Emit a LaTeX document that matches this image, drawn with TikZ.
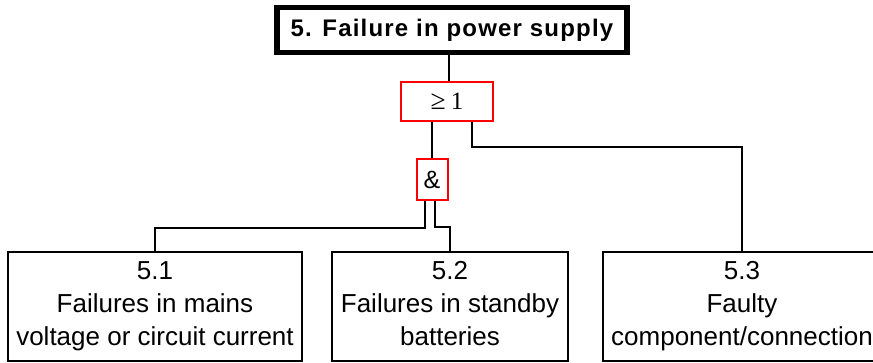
\documentclass[tikz,border=0pt]{standalone}
\usepackage{graphicx}
\usepackage{fontspec}
\setmainfont{Liberation Sans}
\newfontfamily\titlefont[LetterSpace=5]{Liberation Sans}
\newfontfamily\gateserif{Liberation Serif}
\begin{document}
\begin{tikzpicture}[x=1pt,y=-1pt]
\tikzset{
  leaf/.style={draw, line width=2pt, minimum height=109pt, align=center, inner sep=0pt,
    font=\fontsize{26}{33}\selectfont},
  gate/.style={draw=red, line width=2pt, inner sep=0pt},
  titlebox/.style={draw, line width=5.5pt, minimum width=350pt, minimum height=45pt, inner sep=0pt,
    font=\titlefont\bfseries\fontsize{24}{28}\selectfont},
  conn/.style={line width=2pt}
}
\useasboundingbox (0,0) rectangle (873,363);
\clip (0,0) rectangle (873,363);
\node[titlebox] (top) at (452,30) {5. Failure in power supply};
\node[gate, minimum width=92pt, minimum height=39pt, font=\gateserif\fontsize{25}{28}\selectfont] (or) at (447,101.5) {\scalebox{1.1}{≥}\hspace{5pt}1};
\node[gate, minimum width=31pt, minimum height=41pt, font=\fontsize{25}{30}\selectfont] (and) at (432,179.5) {\&};
\node[leaf, minimum width=294pt] (b1) at (155,306.5) {\rule{0pt}{18pt}5.1\\Failures in mains\\voltage or circuit current\rule[-6pt]{0pt}{6pt}};
\node[leaf, minimum width=236pt] (b2) at (450,306.5) {\rule{0pt}{18pt}5.2\\Failures in standby\\batteries\rule[-6pt]{0pt}{6pt}};
\node[leaf, minimum width=278pt] (b3) at (742,306.5) {\rule{0pt}{18pt}5.3\\Faulty\\component/connection\rule[-6pt]{0pt}{6pt}};
\coordinate (p1) at ([xshift=2pt]or.north);
\draw[conn] (p1) -- (p1 |- top.south);
\draw[conn] (and.north |- or.south) -- (and.north);
\coordinate (p2) at ([xshift=25pt]or.south);
\draw[conn] (p2) -- ++(0,25) -| (b3.north);
\coordinate (p3) at ([xshift=-7pt]and.south);
\draw[conn] (p3) -- ++(0,27) -| (b1.north);
\coordinate (p4) at ([xshift=3pt]and.south);
\draw[conn] (p4) -- ++(0,26) -| (b2.north);
\end{tikzpicture}
\end{document}
